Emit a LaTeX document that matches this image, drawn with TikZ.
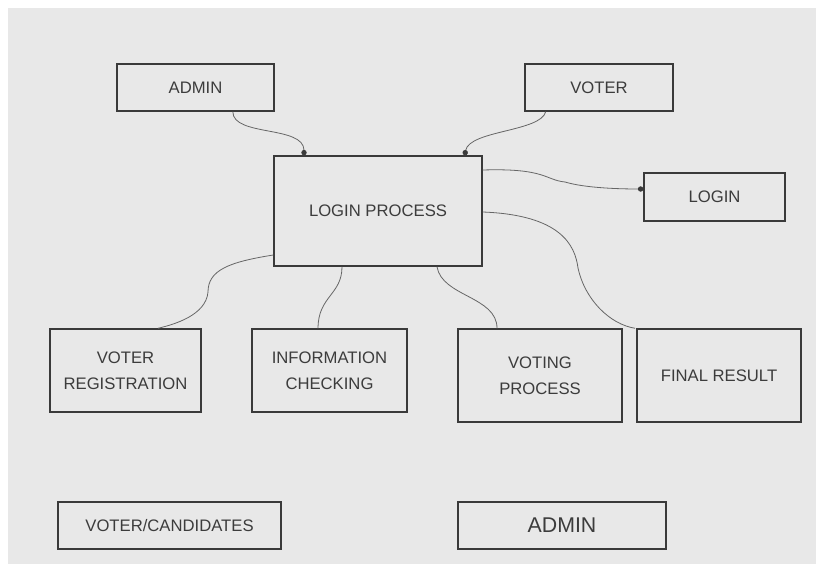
\documentclass[tikz,border=0pt]{standalone}
\usepackage{fontspec}
\setmainfont{Liberation Sans}
\usetikzlibrary{arrows.meta}
\definecolor{bg}{HTML}{E8E8E8}
\definecolor{edge}{HTML}{3A3A3A}
\definecolor{wire}{HTML}{666666}
\definecolor{ink}{HTML}{3C3C3C}
\begin{document}
\begin{tikzpicture}[x=0.75pt,y=-0.75pt,
  box/.style={draw=edge,line width=1.1pt,rectangle,inner sep=0pt,align=center,
    text=ink,font=\fontsize{12.5}{19.5}\selectfont},
  wirec/.style={draw=wire,line width=0.6pt},
  dot/.style={-{Circle[length=4pt,width=4pt,color=edge]}}]
\useasboundingbox (0,0) rectangle (816,564);
\fill[white] (0,0) rectangle (816,564);
\fill[bg] (8,8) rectangle (816,564);
% boxes
\node[box,minimum width=157*0.75pt,minimum height=47*0.75pt] (admin) at (195.5,87.5) {ADMIN};
\node[box,minimum width=148*0.75pt,minimum height=47*0.75pt] (voter) at (599,87.5) {VOTER};
\node[box,minimum width=208*0.75pt,minimum height=110*0.75pt] (lp) at (378,211) {LOGIN PROCESS};
\node[box,minimum width=141*0.75pt,minimum height=48*0.75pt] (login) at (714.5,197) {LOGIN};
\node[box,minimum width=151*0.75pt,minimum height=83*0.75pt] (vr) at (125.5,370.5) {VOTER\\REGISTRATION};
\node[box,minimum width=155*0.75pt,minimum height=83*0.75pt] (ic) at (329.5,370.5) {INFORMATION\\CHECKING};
\node[box,minimum width=164*0.75pt,minimum height=93*0.75pt] (vp) at (540,375.5) {VOTING\\PROCESS};
\node[box,minimum width=164*0.75pt,minimum height=93*0.75pt] (fr) at (719,375.5) {FINAL RESULT};
\node[box,minimum width=223*0.75pt,minimum height=47*0.75pt] (vc) at (169.5,525.5) {VOTER/CANDIDATES};
\node[box,minimum width=208*0.75pt,minimum height=47*0.75pt,font=\fontsize{16}{19}\selectfont] (admin2) at (562,525.5) {ADMIN};
% connectors
\draw[wirec,dot] ([xshift=28pt]admin.south) .. controls +(0,25) and +(0,-30) .. ([xshift=-55.5pt]lp.north);
\draw[wirec,dot] ([xshift=-40pt]voter.south) .. controls +(-5,20) and +(5,-25) .. ([xshift=65pt]lp.north);
\draw[wirec] ([yshift=30.75pt]lp.east) .. controls +(63,-2) and +(-20,-2) .. (565,182) coordinate (k1);
\draw[wirec,dot] (k1) .. controls +(20,6) and +(-24,0) .. ([yshift=6pt]login.west);
\draw[wirec] ([yshift=-33pt]lp.west) .. controls +(-44,7) and +(0,-22) .. (208,292) coordinate (k2);
\draw[wirec] (k2) .. controls +(-2,23) and +(17,-4) .. ([xshift=24.4pt]vr.north);
\draw[wirec] ([xshift=-27pt]lp.south) .. controls +(0,28) and +(0,-32) .. ([xshift=-8.6pt]ic.north);
\draw[wirec] ([xshift=44.25pt]lp.south) .. controls +(5,30) and +(0,-32) .. ([xshift=-32.25pt]vp.north);
\draw[wirec] ([yshift=-0.75pt]lp.east) .. controls +(78,3) and +(-3,-23) .. (578,268) coordinate (k3);
\draw[wirec] (k3) .. controls +(7,32) and +(-25,-4) .. ([xshift=-63pt]fr.north);
\end{tikzpicture}
\end{document}
